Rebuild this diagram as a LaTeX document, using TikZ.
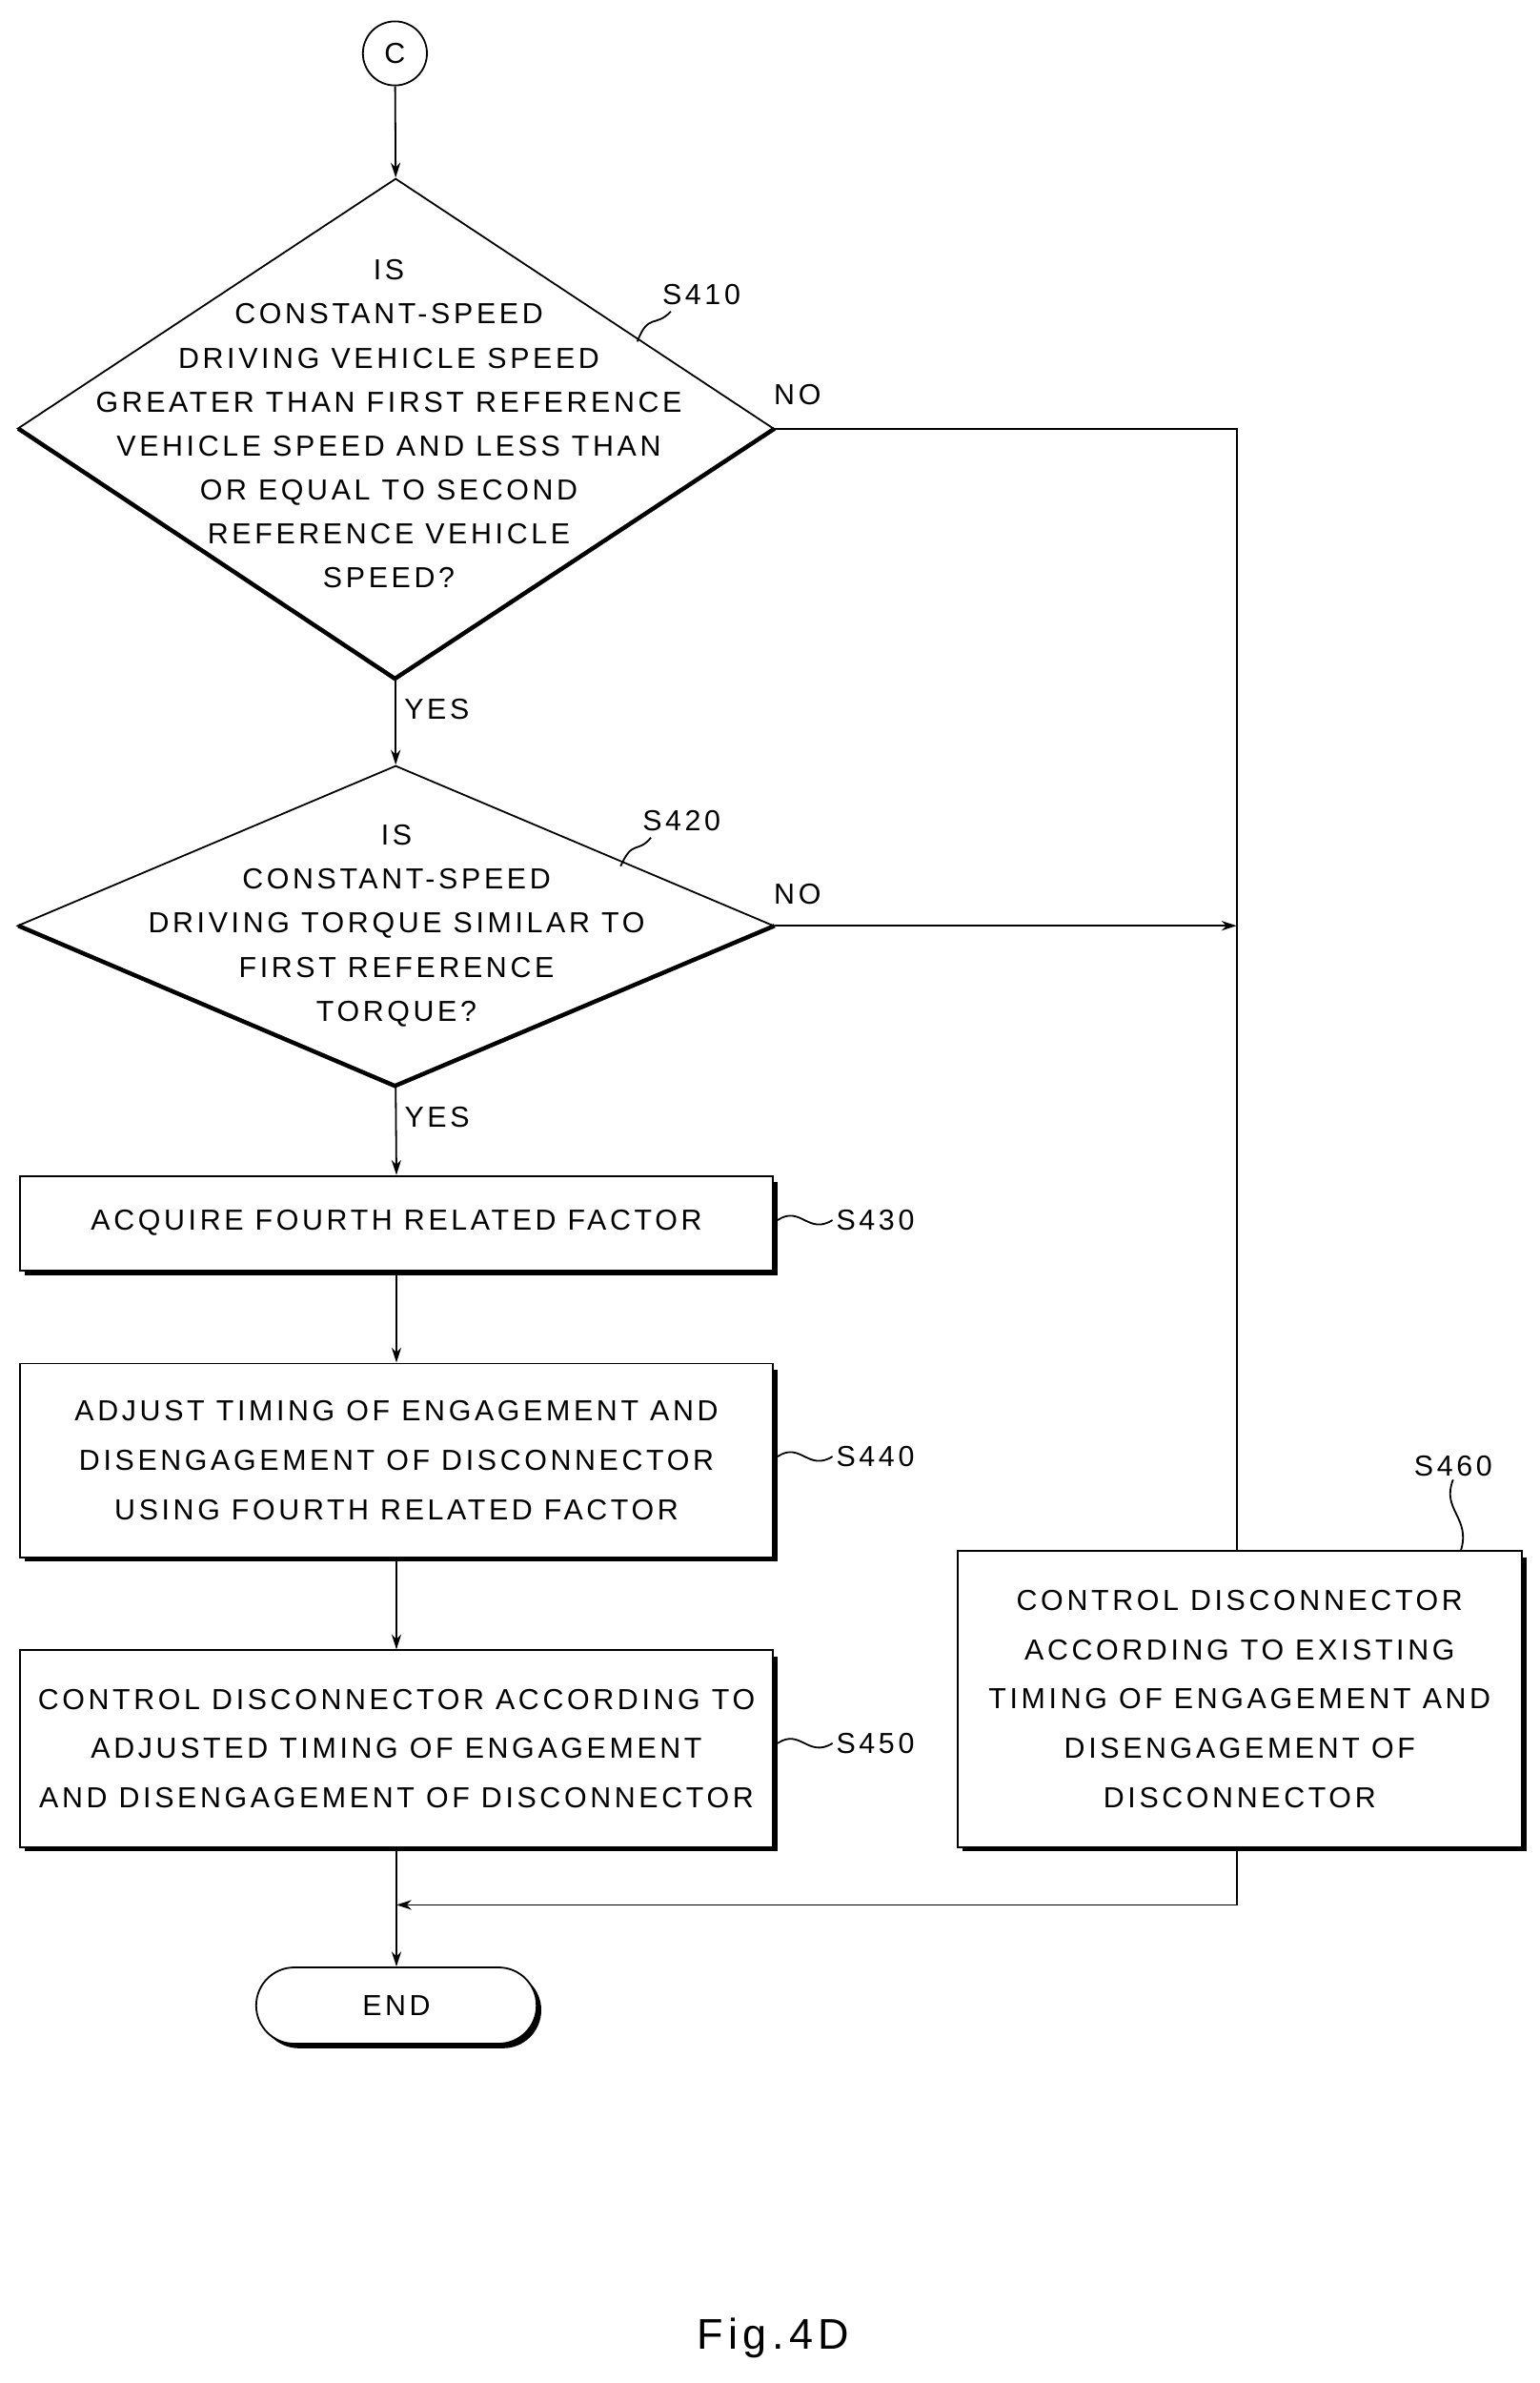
\documentclass[tikz,border=0pt]{standalone}
\usepackage{fontspec}
\setmainfont{Liberation Sans}[LetterSpace=12]
\usetikzlibrary{shapes.geometric,arrows.meta}
\begin{document}
\begin{tikzpicture}[x=0.05cm,y=-0.05cm,
  every node/.style={font=\fontsize{27}{41}\selectfont},
  ln/.style={line width=1.6pt},
  arr/.style={ln,-{Stealth[length=14pt,width=9pt]}},
  box/.style={draw,line width=1.6pt,rectangle,align=center,inner sep=0pt,font=\fontsize{27}{46}\selectfont},
  dia/.style={draw,line width=1.6pt,diamond,align=center,inner sep=0pt,minimum width=24.8cm,minimum height=16.4cm},
  lab/.style={font=\fontsize{27}{32}\selectfont}]
\useasboundingbox (0,0) rectangle (1009.4,1562.5);
\node[draw,circle,ln,minimum size=2.1cm,inner sep=0pt] (c) at (259,35) {C};
\node[dia] (d1) at (259.5,281) {};
\node[align=center] at (255,278) {IS\\CONSTANT-SPEED\\DRIVING VEHICLE SPEED\\GREATER THAN FIRST REFERENCE\\VEHICLE SPEED AND LESS THAN\\OR EQUAL TO SECOND\\REFERENCE VEHICLE\\SPEED?};
\draw[line width=4pt] (12,281) -- (259,445) -- (508,281);
\node[dia,minimum height=10.5cm] (d2) at (259.5,607) {};
\draw[line width=4pt] (12,607) -- (259,712) -- (508,607);
\node[align=center] at (260,607) {IS\\CONSTANT-SPEED\\DRIVING TORQUE SIMILAR TO\\FIRST REFERENCE\\TORQUE?};
\fill (16,775) rectangle (510,836);
\node[box,fill=white,minimum width=24.7cm,minimum height=3.1cm] (b3) at (260,802) {ACQUIRE FOURTH RELATED FACTOR};
\fill (16,898) rectangle (510,1024);
\node[box,fill=white,minimum width=24.7cm,minimum height=6.35cm] (b4) at (260,957.5) {ADJUST TIMING OF ENGAGEMENT AND\\DISENGAGEMENT OF DISCONNECTOR\\USING FOURTH RELATED FACTOR};
\fill (16,1086) rectangle (510,1214);
\node[box,fill=white,minimum width=24.7cm,minimum height=6.45cm] (b5) at (260,1146.5) {CONTROL DISCONNECTOR ACCORDING TO\\ADJUSTED TIMING OF ENGAGEMENT\\AND DISENGAGEMENT OF DISCONNECTOR};
\fill (631,1021) rectangle (1001,1214);
\node[box,fill=white,minimum width=18.5cm,minimum height=9.7cm] (b6) at (813,1114) {CONTROL DISCONNECTOR\\ACCORDING TO EXISTING\\TIMING OF ENGAGEMENT AND\\DISENGAGEMENT OF\\DISCONNECTOR};
\fill[rounded corners=1.25cm] (171,1293) rectangle (355,1343);
\node[box,fill=white,rounded corners=1.25cm,minimum width=9.2cm,minimum height=2.5cm] (end) at (260,1315) {END};
\coordinate (k1) at (811,281);
\coordinate (k2) at (811,607);
\coordinate (k5) at (811,1017);
\coordinate (k6) at (811,1211);
\coordinate (k3) at (811,1249);
\coordinate (k4) at (260,1249);
\draw[arr] (c) -- (d1.north);
\draw[arr] (d1.south) -- (d2.north) node[pos=0.35,right=4pt,lab]{YES};
\draw[arr] (d2.south) -- (b3.north) node[pos=0.35,right=4pt,lab]{YES};
\draw[arr] (b3) -- (b4);
\draw[arr] (b4) -- (b5);
\draw[arr] (b5) -- (end);
\draw[ln] (d1.east) -- (k1) -- (k5);
\node[lab] at (523,259) {NO};
\draw[arr] (d2.east) -- (k2);
\node[lab] at (523,586) {NO};
\draw[arr] (k6) -- (k3) -- (k4);
% step labels
\node[lab] (s410) at (460,193) {S410};
\draw[ln] (s410.south west) ++(8,2) .. controls (430,215) and (425,205) .. (418,224);
\node[lab] (s420) at (447,538) {S420};
\draw[ln] (s420.south west) ++(8,2) .. controls (418,560) and (415,550) .. (407,568);
\node[lab,anchor=west] (s430) at (546,800) {S430};
\draw[ln] (510,800) .. controls (525,790) and (530,810) .. (s430.west);
\node[lab,anchor=west] (s440) at (546,955) {S440};
\draw[ln] (510,955) .. controls (525,945) and (530,965) .. (s440.west);
\node[lab,anchor=west] (s450) at (546,1143) {S450};
\draw[ln] (510,1143) .. controls (525,1133) and (530,1153) .. (s450.west);
\node[lab] (s460) at (953,961) {S460};
\draw[ln] (s460.south) .. controls (945,990) and (965,995) .. (958,1017);
\node[font=\fontsize{40}{48}\selectfont] at (507,1533) {Fig.4D};
\end{tikzpicture}
\end{document}
